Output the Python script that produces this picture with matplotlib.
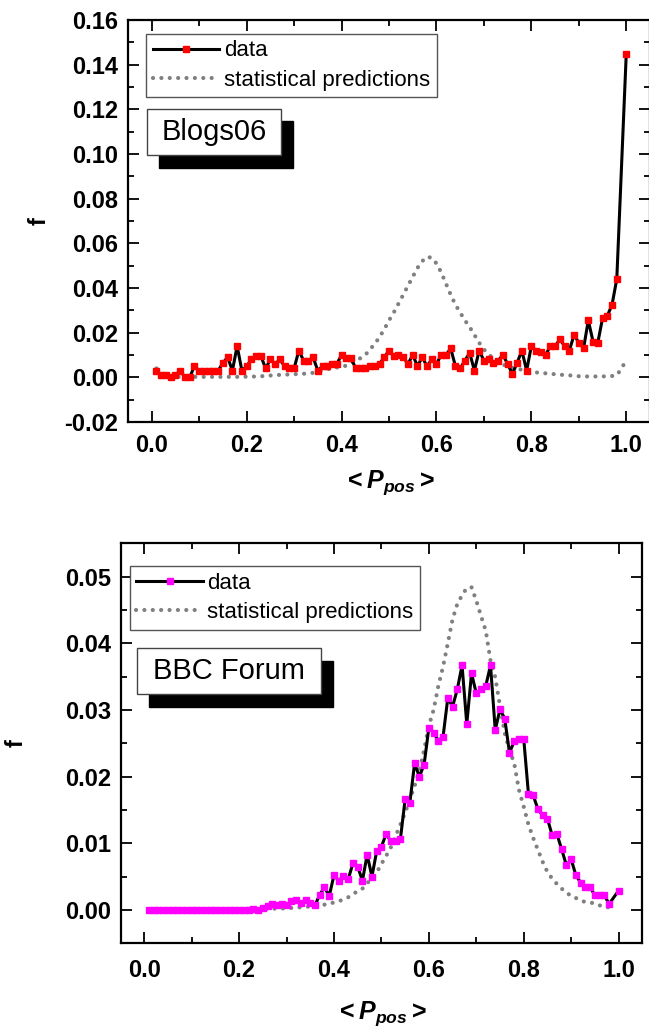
import numpy as np
import matplotlib
matplotlib.use("Agg")
import matplotlib.pyplot as plt
from matplotlib.patches import Rectangle
from matplotlib.ticker import MultipleLocator, FormatStrFormatter

plt.rcParams['font.family'] = ['Liberation Sans', 'DejaVu Sans']
plt.rcParams['mathtext.fontset'] = 'custom'
plt.rcParams['mathtext.rm'] = 'Liberation Sans:bold'
plt.rcParams['mathtext.it'] = 'Liberation Sans:italic:bold'
plt.rcParams['mathtext.bf'] = 'Liberation Sans:bold'

# ---------------- data ----------------
# x positions of the measured data (0.99 not present in the plots)
p_data = np.round(np.r_[np.arange(1, 99), 100] / 100.0, 2)
# x positions of the statistical-prediction curves
p_pred = np.round(np.arange(1, 101) / 100.0, 2)
p_pred_bbc = np.round(np.arange(1, 100) / 100.0, 2)

blogs_data = [
    0.003, 0.001, 0.001, 0.000, 0.001, 0.003, 0.000, 0.000, 0.005, 0.003,
    0.003, 0.003, 0.003, 0.003, 0.0065, 0.009, 0.003, 0.014, 0.003, 0.005,
    0.008, 0.0095, 0.0095, 0.004, 0.008, 0.006, 0.008, 0.005, 0.004, 0.004,
    0.012, 0.0075, 0.0075, 0.009, 0.003, 0.005, 0.005, 0.006, 0.006, 0.010,
    0.0085, 0.0085, 0.004, 0.004, 0.004, 0.005, 0.005, 0.006, 0.009, 0.012,
    0.0095, 0.010, 0.009, 0.006, 0.010, 0.005, 0.009, 0.005, 0.008, 0.006,
    0.010, 0.010, 0.013, 0.005, 0.004, 0.0075, 0.011, 0.003, 0.012, 0.0075,
    0.008, 0.0065, 0.0075, 0.010, 0.006, 0.0015, 0.0065, 0.012, 0.003, 0.014,
    0.012, 0.0115, 0.010, 0.014, 0.014, 0.017, 0.014, 0.012, 0.019, 0.0155,
    0.013, 0.0255, 0.016, 0.0155, 0.0265, 0.0275, 0.0325, 0.044, 0.145]

blogs_pred = [
    0.0040, 0.0015, 0.0006, 0.0003, 0.0002, 0.0002, 0.0002, 0.0002, 0.0002, 0.0002,
    0.0002, 0.0002, 0.0002, 0.0002, 0.0002, 0.0002, 0.0002, 0.0002, 0.0002, 0.0003,
    0.0003, 0.0004, 0.0005, 0.0006, 0.0008, 0.0010, 0.0011, 0.0012, 0.0013, 0.0014,
    0.0015, 0.0016, 0.0018, 0.0020, 0.0025, 0.0030, 0.0036, 0.0040, 0.0044, 0.0048,
    0.0052, 0.0065, 0.0075, 0.0086, 0.0100, 0.0125, 0.0150, 0.0180, 0.0215, 0.0255,
    0.0290, 0.0330, 0.0370, 0.0410, 0.0450, 0.0490, 0.0520, 0.0540, 0.0535, 0.0510,
    0.0470, 0.0420, 0.0370, 0.0325, 0.0290, 0.0255, 0.0225, 0.0190, 0.0155, 0.0125,
    0.0104, 0.0082, 0.0068, 0.0057, 0.0050, 0.0042, 0.0038, 0.0034, 0.0029, 0.0025,
    0.0022, 0.0020, 0.0018, 0.0016, 0.0014, 0.0012, 0.0010, 0.0009, 0.0007, 0.0005,
    0.0004, 0.0004, 0.0004, 0.0004, 0.0004, 0.0005, 0.0006, 0.0009, 0.0040, 0.0077]

bbc_data = [
    0.0, 0.0, 0.0, 0.0, 0.0, 0.0, 0.0, 0.0, 0.0, 0.0,
    0.0, 0.0, 0.0, 0.0, 0.0, 0.0, 0.0, 0.0, 0.0, 0.0,
    0.0, 0.0, 0.0002, 0.0, 0.0003, 0.0006, 0.0009, 0.0007, 0.0009, 0.0007,
    0.0013, 0.0015, 0.0011, 0.0015, 0.0010, 0.0007, 0.0023, 0.0034, 0.0021, 0.0052,
    0.0044, 0.0051, 0.0046, 0.0070, 0.0065, 0.0044, 0.0083, 0.0050, 0.0088, 0.0095,
    0.0114, 0.0103, 0.0103, 0.0106, 0.0166, 0.0161, 0.0220, 0.0200, 0.0218, 0.0273,
    0.0266, 0.0254, 0.0260, 0.0318, 0.0305, 0.0331, 0.0367, 0.0279, 0.0355, 0.0325,
    0.0331, 0.0336, 0.0367, 0.0270, 0.0301, 0.0287, 0.0236, 0.0253, 0.0257, 0.0257,
    0.0174, 0.0172, 0.0151, 0.0142, 0.0137, 0.0112, 0.0114, 0.0091, 0.0067, 0.0076,
    0.0052, 0.0041, 0.0034, 0.0034, 0.0022, 0.0022, 0.0022, 0.0009, 0.0029]

bbc_pred = [
    0.0, 0.0, 0.0, 0.0, 0.0, 0.0, 0.0, 0.0, 0.0, 0.0,
    0.0, 0.0, 0.0, 0.0, 0.0, 0.0, 0.0, 0.0, 0.0, 0.0,
    0.0001, 0.0001, 0.0001, 0.0001, 0.0001, 0.0001, 0.0002, 0.0002, 0.0002, 0.0003,
    0.0003, 0.0004, 0.0004, 0.0005, 0.0005, 0.0006, 0.0007, 0.0008, 0.0010, 0.0011,
    0.0013, 0.0016, 0.0019, 0.0024, 0.0028, 0.0032, 0.0040, 0.0048, 0.0056, 0.0069,
    0.0081, 0.0094, 0.0111, 0.0128, 0.0146, 0.0166, 0.0186, 0.0208, 0.0240, 0.0276,
    0.0300, 0.0336, 0.0365, 0.0400, 0.0436, 0.0459, 0.0472, 0.0483, 0.0484, 0.0464,
    0.0441, 0.0419, 0.0374, 0.0349, 0.0306, 0.0265, 0.0240, 0.0220, 0.0180, 0.0155,
    0.0128, 0.0108, 0.0090, 0.0072, 0.0057, 0.0047, 0.0039, 0.0032, 0.0026, 0.0021,
    0.0018, 0.0014, 0.0012, 0.0011, 0.0010, 0.0007, 0.0004, 0.0004, 0.0006]

legend_labels = ['data', 'statistical predictions']
titles = ['Blogs06', 'BBC Forum']

# ---------------- figure ----------------
W, H = 649, 1028
fig = plt.figure(figsize=(W / 100, H / 100), dpi=100)

def px_axes(l, t, r, b):
    return fig.add_axes([l / W, 1 - b / H, (r - l) / W, (b - t) / H])

ax1 = px_axes(128, 20, 650, 422)
ax2 = px_axes(120.5, 543.3, 642.3, 943.3)

gray = '#808080'

def style(ax, ylim, ymaj, ymin, ypad, xpad):
    ax.set_xlim(-0.05, 1.05)
    ax.set_ylim(*ylim)
    ax.xaxis.set_major_locator(MultipleLocator(0.2))
    ax.xaxis.set_minor_locator(MultipleLocator(0.1))
    ax.yaxis.set_major_locator(MultipleLocator(ymaj))
    ax.yaxis.set_minor_locator(MultipleLocator(ymin))
    ax.xaxis.set_major_formatter(FormatStrFormatter('%.1f'))
    ax.yaxis.set_major_formatter(FormatStrFormatter('%.2f'))
    ax.tick_params(which='both', direction='in', top=True, right=True,
                   width=1.3, labelsize=17)
    ax.tick_params(which='major', length=8)
    ax.tick_params(which='minor', length=4.5)
    ax.tick_params(axis='x', which='major', pad=xpad)
    ax.tick_params(axis='y', which='major', pad=ypad)
    for lab in ax.get_xticklabels() + ax.get_yticklabels():
        lab.set_fontweight('bold')
    for s in ax.spines.values():
        s.set_linewidth(1.6)
    ax.set_ylabel('f', fontsize=17, fontweight='bold')
    ax.set_xlabel(r'${<}\mathit{P}_{\mathit{pos}}{>}$', fontsize=18)

def panel(ax, xd, yd, xp, yp, mcolor, msize, title, leg_anchor, box, shadow):
    ax.plot(xp, yp, color=gray, lw=3.0, linestyle=(0, (0.01, 2.0)),
            dash_capstyle='round', label=legend_labels[1], zorder=2)
    ax.plot(xd, yd, color='black', lw=2.2, marker='s', ms=msize,
            mfc=mcolor, mec=mcolor, label=legend_labels[0], zorder=3)
    h, l = ax.get_legend_handles_labels()
    leg = ax.legend(h[::-1], l[::-1], loc='upper left', bbox_to_anchor=leg_anchor,
                    borderaxespad=0, fancybox=False, framealpha=1,
                    edgecolor='#555555', fontsize=16, handlelength=3.0,
                    handletextpad=0.2, labelspacing=0.38, borderpad=0.3)
    leg.get_frame().set_linewidth(1.0)
    sx0, sy0, sx1, sy1 = shadow
    ax.add_patch(Rectangle((sx0, sy0), sx1 - sx0, sy1 - sy0, transform=ax.transAxes,
                           facecolor='black', edgecolor='black', zorder=5))
    bx0, by0, bx1, by1 = box
    ax.add_patch(Rectangle((bx0, by0), bx1 - bx0, by1 - by0, transform=ax.transAxes,
                           facecolor='white', edgecolor='#444444', lw=1.0, zorder=6))
    ax.text((bx0 + bx1) / 2, (by0 + by1) / 2, title, transform=ax.transAxes,
            ha='center', va='center', fontsize=21, zorder=7)

style(ax1, (-0.02, 0.16), 0.02, 0.01, 7, 9)
style(ax2, (-0.005, 0.055), 0.01, 0.005, 7, 11)

panel(ax1, p_data, blogs_data, p_pred, blogs_pred, '#ff0000', 4.4, titles[0],
      (0.0345, 0.966), (0.0364, 0.664, 0.293, 0.7786), (0.0594, 0.6318, 0.316, 0.7488))
panel(ax2, p_data, bbc_data, p_pred_bbc, bbc_pred, '#ff00ff', 4.8, titles[1],
      (0.0174, 0.943), (0.0312, 0.623, 0.3836, 0.738), (0.0543, 0.5908, 0.4067, 0.7058))

ax1.yaxis.set_label_coords(-0.148, 0.5)
ax2.yaxis.set_label_coords(-0.178, 0.5)
ax1.xaxis.set_label_coords(0.5, -0.115)
ax2.xaxis.set_label_coords(0.5, -0.14)

fig.savefig('out.png', dpi=100)
